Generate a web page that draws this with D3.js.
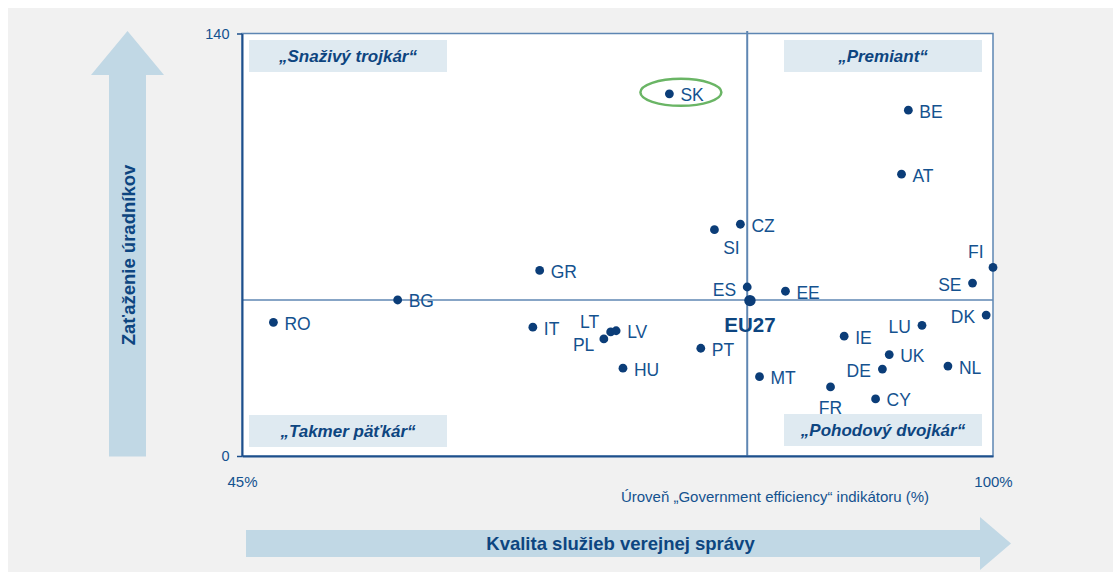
<!DOCTYPE html>
<html>
<head>
<meta charset="utf-8">
<script src="https://cdn.jsdelivr.net/npm/d3@7"></script>
<style>
  html, body { margin: 0; padding: 0; background: #ffffff; }
  svg { display: block; font-family: "Liberation Sans", Arial, sans-serif; }
</style>
</head>
<body>
<svg id="chart" width="1114" height="572"></svg>
<script>
// ---------------- DATA ----------------
const countries = ["SK","BE","AT","CZ","SI","ES","EE","FI","SE","DK","LU","IE","UK","DE","NL","PT","MT","FR","CY","GR","BG","RO","IT","PL","LT","LV","HU"];
const efficiency = [76.3, 93.8, 93.3, 81.5, 79.6, 82.0, 84.8, 100.0, 98.5, 99.5, 94.8, 89.1, 92.4, 91.9, 96.7, 78.6, 82.9, 88.1, 91.4, 66.8, 56.4, 47.3, 66.3, 71.5, 72.0, 72.4, 72.9];
const workload   = [120.0, 114.6, 93.4, 76.8, 75.0, 56.0, 54.6, 62.5, 57.3, 46.7, 43.3, 39.7, 33.6, 28.8, 29.8, 35.7, 26.3, 22.9, 18.9, 61.5, 51.7, 44.3, 42.7, 38.8, 41.1, 41.5, 29.1];
const euLabel = "EU27";
const euValue = [82.2, 51.5];
const averageLines = [82.0, 51.7];
const highlighted = "SK";
const xTicks = [45, 100];
const yTicks = [0, 140];
const quadrantLabels = ["„Snaživý trojkár“", "„Premiant“", "„Takmer päťkár“", "„Pohodový dvojkár“"];
const xAxisTitle = "Úroveň „Government efficiency“ indikátoru (%)";
const xArrowTitle = "Kvalita služieb verejnej správy";
const yArrowTitle = "Zaťaženie úradníkov";

// ---------------- LAYOUT / STYLE ----------------
const W = 1114, H = 572;
const plot = { left: 242, right: 993, top: 33.5, bottom: 456 };
const C = {
  bg: "#f1f1f1", arrow: "#c1d8e5", box: "#dfeaf1",
  dot: "#0b3d78", text: "#14528f", bold: "#0d4580",
  axis: "#1d4f8b", border: "#5d86b3", mid: "#5f87b3", green: "#6ab565"
};
// label placement: [anchor, dx, dy]
const place = {
  right: ["start", 11, 7.5],
  SI: ["middle", 17, 24],
  ES: ["end", -11, 8.5],
  FI: ["end", -9.5, -9],
  SE: ["end", -11, 7.5],
  DK: ["end", -11, 7.5],
  LU: ["end", -11, 8],
  DE: ["end", -11.5, 7.5],
  FR: ["middle", 0, 27],
  LT: ["end", -11.5, -3.5],
  PL: ["end", -9.5, 12]
};

const svg = d3.select("#chart");

// background panel
svg.append("rect").attr("x", 8).attr("y", 8).attr("width", 1105).attr("height", 564).attr("fill", C.bg);

const x = d3.scaleLinear().domain([45, 100]).range([plot.left, plot.right]);
const y = d3.scaleLinear().domain([0, 140]).range([plot.bottom, plot.top]);

// vertical arrow
{
  const sx0 = 109, sx1 = 146, hx0 = 91, hx1 = 164, tipY = 31, baseY = 75, bot = 456.5;
  const cx = (hx0 + hx1) / 2;
  svg.append("path")
    .attr("d", `M${sx0},${bot}L${sx0},${baseY}L${hx0},${baseY}L${cx},${tipY}L${hx1},${baseY}L${sx1},${baseY}L${sx1},${bot}Z`)
    .attr("fill", C.arrow);
  svg.append("text")
    .attr("transform", `translate(135,255) rotate(-90)`)
    .attr("text-anchor", "middle")
    .attr("font-size", 18.5).attr("font-weight", "bold").attr("fill", C.bold)
    .text(yArrowTitle);
}
// horizontal arrow
{
  const sx0 = 246, hb = 980, tipX = 1011, sy0 = 530, sy1 = 557, hy0 = 517, hy1 = 570;
  const cy = (hy0 + hy1) / 2;
  svg.append("path")
    .attr("d", `M${sx0},${sy0}L${hb},${sy0}L${hb},${hy0}L${tipX},${cy}L${hb},${hy1}L${hb},${sy1}L${sx0},${sy1}Z`)
    .attr("fill", C.arrow);
  svg.append("text")
    .attr("x", 620.5).attr("y", 550)
    .attr("text-anchor", "middle")
    .attr("font-size", 18.5).attr("font-weight", "bold").attr("fill", C.bold)
    .text(xArrowTitle);
}

// plot area
svg.append("rect")
  .attr("x", plot.left).attr("y", plot.top)
  .attr("width", plot.right - plot.left).attr("height", plot.bottom - plot.top)
  .attr("fill", "#ffffff").attr("stroke", C.border).attr("stroke-width", 1.5);

// quadrant boxes
const boxW = 198, boxH = 32;
const boxPos = [
  [plot.left + 7, plot.top + 6.5],
  [plot.right - 11 - boxW, plot.top + 6.5],
  [plot.left + 7, plot.bottom - 41],
  [plot.right - 11 - boxW, plot.bottom - 42]
];
quadrantLabels.forEach((t, i) => {
  const [bx, by] = boxPos[i];
  svg.append("rect").attr("x", bx).attr("y", by).attr("width", boxW).attr("height", boxH).attr("fill", C.box);
  svg.append("text")
    .attr("x", bx + boxW / 2).attr("y", by + boxH / 2 + 6)
    .attr("text-anchor", "middle")
    .attr("font-size", 17).attr("font-weight", "bold").attr("font-style", "italic")
    .attr("fill", C.bold)
    .text(t);
});

// average lines
svg.append("line")
  .attr("x1", x(averageLines[0])).attr("x2", x(averageLines[0]))
  .attr("y1", plot.top - 2.5).attr("y2", plot.bottom)
  .attr("stroke", C.mid).attr("stroke-width", 2);
svg.append("line")
  .attr("x1", plot.left).attr("x2", plot.right)
  .attr("y1", y(averageLines[1])).attr("y2", y(averageLines[1]))
  .attr("stroke", C.mid).attr("stroke-width", 1.6);

// axes
const yAxis = d3.axisLeft(y).tickValues(yTicks).tickSize(5).tickPadding(7.5).tickSizeOuter(0);
const gy = svg.append("g").attr("transform", `translate(${plot.left},0)`).call(yAxis);
gy.select(".domain").attr("stroke", C.axis).attr("stroke-width", 2);
gy.selectAll(".tick line").attr("stroke", C.axis).attr("stroke-width", 1.5);
gy.selectAll(".tick text").attr("font-size", 14.5).attr("fill", C.text).attr("font-family", null);

const xAxis = d3.axisBottom(x).tickValues(xTicks).tickSize(0).tickSizeOuter(0).tickFormat(d => d + "%");
const gx = svg.append("g").attr("transform", `translate(0,${plot.bottom})`).call(xAxis);
gx.select(".domain").attr("stroke", C.axis).attr("stroke-width", 2);
gx.selectAll(".tick text").attr("font-size", 15).attr("fill", C.text).attr("font-family", null)
  .attr("dy", null).attr("y", 30.5);

svg.append("text")
  .attr("x", 775).attr("y", 502)
  .attr("text-anchor", "middle").attr("font-size", 15).attr("fill", C.text)
  .text(xAxisTitle);

// highlight ellipse
const hi = countries.indexOf(highlighted);
svg.append("ellipse")
  .attr("cx", x(efficiency[hi]) + 11.5).attr("cy", y(workload[hi]) - 1.5)
  .attr("rx", 40.5).attr("ry", 13.5)
  .attr("fill", "none").attr("stroke", C.green).attr("stroke-width", 2.5);

// points
const pts = countries.map((c, i) => ({ c, ex: efficiency[i], wl: workload[i] }));
const g = svg.append("g");
g.selectAll("circle").data(pts).join("circle")
  .attr("cx", d => x(d.ex)).attr("cy", d => y(d.wl)).attr("r", 4.4).attr("fill", C.dot);
g.selectAll("text").data(pts).join("text")
  .each(function (d) {
    const p = place[d.c] || place.right;
    d3.select(this)
      .attr("x", x(d.ex) + p[1]).attr("y", y(d.wl) + p[2])
      .attr("text-anchor", p[0]);
  })
  .attr("font-size", 17.5).attr("fill", C.text)
  .text(d => d.c);

// EU27
svg.append("circle").attr("cx", x(euValue[0])).attr("cy", y(euValue[1])).attr("r", 5.7).attr("fill", C.dot);
svg.append("text")
  .attr("x", x(euValue[0])).attr("y", y(euValue[1]) + 31)
  .attr("text-anchor", "middle").attr("font-size", 20.5).attr("font-weight", "bold").attr("fill", C.bold)
  .text(euLabel);
</script>
</body>
</html>
